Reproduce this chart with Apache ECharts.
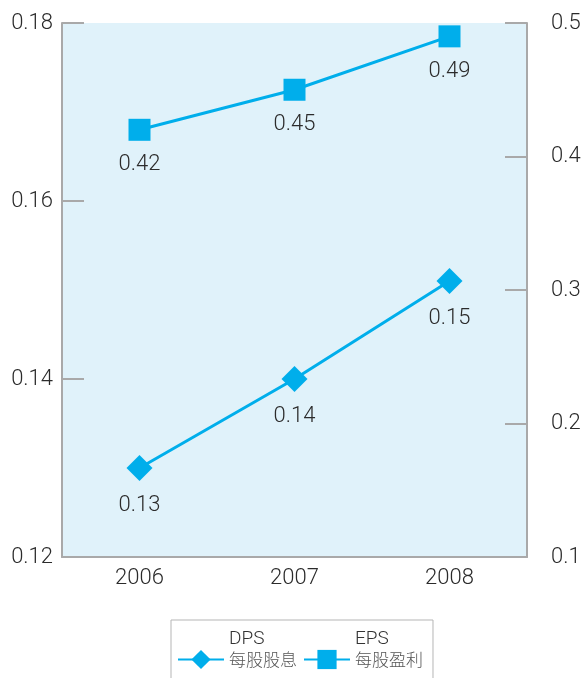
<!DOCTYPE html>
<html>
<head>
<meta charset="utf-8">
<script src="https://cdn.jsdelivr.net/npm/echarts@6/dist/echarts.min.js"></script>
<style>
  html, body { margin: 0; padding: 0; background: #ffffff; }
  #chart { width: 584px; height: 678px; }
</style>
</head>
<body>
<div id="chart"></div>
<script>
// Years on the category axis
const years = ['2006', '2007', '2008'];
// Dividend per share (left axis)
const dpsValues = [0.13, 0.14, 0.151];
// Earnings per share (right axis)
const epsValues = [0.42, 0.45, 0.49];
// Series names with their Chinese captions
const dpsName = 'DPS';
const dpsCaption = '每股股息';
const epsName = 'EPS';
const epsCaption = '每股盈利';

const lineColor = '#00aeeb';
const axisGrey = '#a9a9a9';
const textColor = '#2b2b2b';
const fontFamily = 'Roboto, "Noto Sans", "Noto Sans CJK TC", sans-serif';

const captions = {};
captions[dpsName] = dpsCaption;
captions[epsName] = epsCaption;

const chart = echarts.init(document.getElementById('chart'), null, { renderer: 'canvas' });

const valueLabel = {
  show: true,
  position: 'bottom',
  distance: 13,
  color: textColor,
  fontSize: 22,
  fontWeight: 300,
  fontFamily: fontFamily,
  formatter: p => p.value.toFixed(2)
};

chart.setOption({
  animation: false,
  backgroundColor: '#ffffff',
  textStyle: { fontFamily: fontFamily },
  grid: {
    left: 62, right: 57, top: 23, bottom: 121,
    show: true,
    backgroundColor: '#e0f2fa',
    borderWidth: 0
  },
  legend: {
    bottom: -14,
    left: 171,
    padding: [10, 10, 22, 6],
    borderColor: '#b5b5b5',
    borderWidth: 1,
    itemGap: 6,
    itemWidth: 46,
    itemHeight: 24,
    data: [dpsName, epsName],
    formatter: name => '{a|' + name + '}\n{b|' + captions[name] + '}',
    textStyle: {
      color: textColor,
      fontFamily: fontFamily,
      fontWeight: 300,
      padding: [0, 0, 18, 0],
      rich: {
        a: { fontSize: 19, lineHeight: 22, fontWeight: 300, color: '#333333', fontFamily: fontFamily, align: 'left' },
        b: { fontSize: 17, lineHeight: 22, fontWeight: 300, color: '#555555', fontFamily: fontFamily, align: 'left' }
      }
    }
  },
  xAxis: {
    type: 'category',
    data: years,
    boundaryGap: true,
    axisLine: { lineStyle: { color: axisGrey, width: 2 } },
    axisTick: { alignWithLabel: true, inside: true, length: 25, lineStyle: { color: axisGrey, width: 2 } },
    axisLabel: { color: textColor, fontSize: 22, fontWeight: 300, margin: 10 },
    splitLine: { show: false }
  },
  yAxis: [
    {
      type: 'value',
      position: 'left',
      min: 0.12, max: 0.18, interval: 0.02,
      axisLine: { show: true, lineStyle: { color: axisGrey, width: 2 } },
      axisTick: { show: true, inside: true, length: 22, lineStyle: { color: axisGrey, width: 2 } },
      axisLabel: { color: textColor, fontSize: 22, fontWeight: 300, margin: 9, formatter: v => v.toFixed(2) },
      splitLine: { show: false }
    },
    {
      type: 'value',
      position: 'right',
      min: 0.1, max: 0.5, interval: 0.1,
      axisLine: { show: true, lineStyle: { color: axisGrey, width: 2 } },
      axisTick: { show: true, inside: true, length: 22, lineStyle: { color: axisGrey, width: 2 } },
      axisLabel: { color: textColor, fontSize: 22, fontWeight: 300, margin: 24, formatter: v => v.toFixed(1) },
      splitLine: { show: false }
    }
  ],
  series: [
    {
      name: dpsName,
      type: 'line',
      yAxisIndex: 0,
      data: dpsValues,
      symbol: 'diamond',
      symbolSize: [26, 26],
      itemStyle: { color: lineColor },
      lineStyle: { color: lineColor, width: 3 },
      label: valueLabel
    },
    {
      name: epsName,
      type: 'line',
      yAxisIndex: 1,
      data: epsValues,
      symbol: 'rect',
      symbolSize: 22,
      itemStyle: { color: lineColor },
      lineStyle: { color: lineColor, width: 3 },
      label: valueLabel
    }
  ]
});
</script>
</body>
</html>
